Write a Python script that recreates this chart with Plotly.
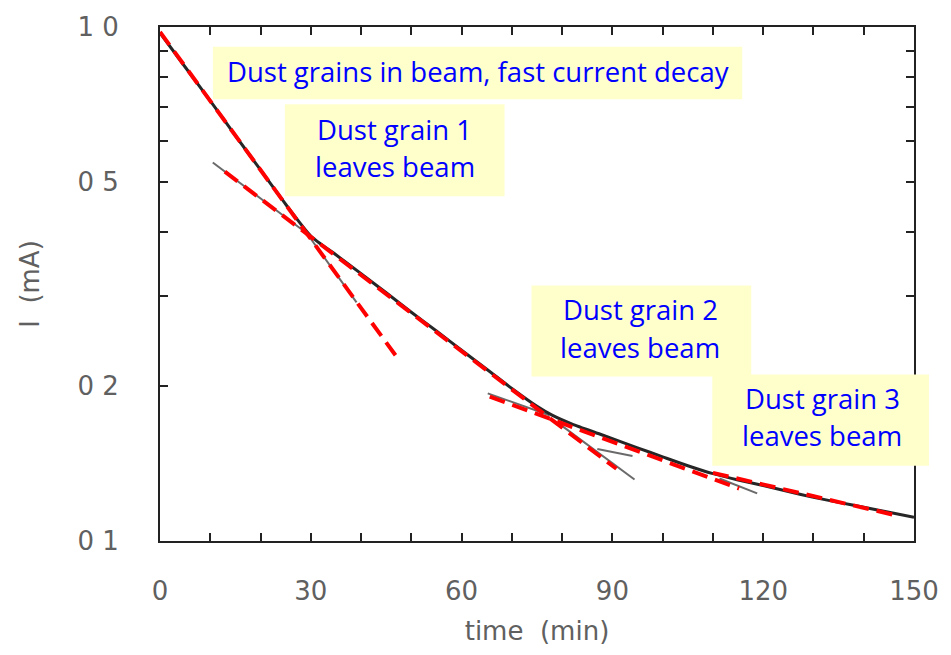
import plotly.graph_objects as go

# ---------------- data ----------------
# measured beam current I (mA) vs time (min)
time_min = [0, 5, 10, 15, 20, 25, 30, 35, 40, 45, 50, 55, 60, 65, 70, 75, 78,
            82, 88, 95, 100, 105, 110, 115, 120, 125, 130, 135, 140, 145, 150]
current_mA = [0.974, 0.836, 0.718, 0.615, 0.527, 0.452, 0.392, 0.3604, 0.3313,
              0.304, 0.2787, 0.2562, 0.235, 0.2159, 0.198, 0.1828, 0.1757,
              0.1688, 0.1608, 0.1518, 0.1458, 0.1401, 0.1352, 0.1314, 0.1282,
              0.1248, 0.1216, 0.1189, 0.1163, 0.1137, 0.1112]

# red dashed exponential-decay fits (start/end points)
fit1_t, fit1_I = [0, 47.1], [0.978, 0.228]
fit2_t, fit2_I = [12.9, 90.8], [0.523, 0.1382]
fit3_t, fit3_I = [65.6, 115.2], [0.191, 0.1265]
fit4_t, fit4_I = [110.0, 146.4], [0.1357, 0.1122]

# thin grey tangent segments of the original figure
tan1_t, tan1_I = [29.2, 39.1], [0.397, 0.2913]
tan2_t, tan2_I = [10.5, 29.2], [0.545, 0.397]
tan3_t, tan3_I = [79.5, 94.4], [0.1688, 0.1317]
tan4_t, tan4_I = [65.2, 77.5], [0.1937, 0.1757]
tan5_t, tan5_I = [87.0, 94.0], [0.151, 0.1464]
tan6_t, tan6_I = [111.3, 118.8], [0.1323, 0.1238]

# axis ticks
x_tickvals = list(range(0, 151, 10))
x_ticktext = [str(v) if v % 30 == 0 else "" for v in x_tickvals]
y_tickvals = [0.1, 0.2, 0.3, 0.4, 0.5, 0.6, 0.7, 0.8, 0.9, 1.0]
y_ticktext = ["0 1", "0 2", "", "", "0 5", "", "", "", "", "1 0"]

# annotation texts
notes = [
    "Dust grains in beam, fast current decay",
    "Dust grain 1", "leaves beam",
    "Dust grain 2", "leaves beam",
    "Dust grain 3", "leaves beam",
]

# ---------------- figure ----------------
W, H = 951, 655
L, R, T, B = 160, 36, 22, 114
PW, PH = W - L - R, H - T - B


def px(x):
    return (x - L) / PW


def py(y):
    return (H - B - y) / PH


fig = go.Figure()

grey_segments = [(tan1_t, tan1_I), (tan2_t, tan2_I), (tan3_t, tan3_I),
                 (tan4_t, tan4_I), (tan5_t, tan5_I), (tan6_t, tan6_I)]
for tt, ii in grey_segments:
    fig.add_trace(go.Scatter(x=tt, y=ii, mode="lines",
                             line=dict(color="#6a6a6a", width=2),
                             showlegend=False, hoverinfo="skip"))

fig.add_trace(go.Scatter(x=time_min, y=current_mA, mode="lines",
                         line=dict(color="#262626", width=3, shape="spline", smoothing=0.6),
                         showlegend=False))

for tt, ii in [(fit1_t, fit1_I), (fit2_t, fit2_I), (fit3_t, fit3_I), (fit4_t, fit4_I)]:
    fig.add_trace(go.Scatter(x=tt, y=ii, mode="lines",
                             line=dict(color="#ff0000", width=4, dash="16px,8px"),
                             showlegend=False))

# yellow boxes (pixel rectangles -> paper coords)
boxes = [(213, 42, 743, 95), (285, 100, 505, 193), (532, 283, 752, 375), (713, 373, 930, 465)]
for x0, y0, x1, y1 in boxes:
    fig.add_shape(type="rect", xref="paper", yref="paper",
                  x0=px(x0), x1=px(x1), y0=py(y1), y1=py(y0),
                  fillcolor="#ffffcc", line=dict(width=0), layer="above")

text_pos = [(478, 67), (395, 126), (395, 163), (641, 307), (641, 346), (823, 397), (823, 434)]
for txt, (x, y) in zip(notes, text_pos):
    fig.add_annotation(x=px(x), y=py(y), xref="paper", yref="paper", text=txt,
                       showarrow=False, xanchor="center", yanchor="middle",
                       font=dict(family="Open Sans", size=27.5, color="#0000ff"))

axis_font = dict(family="DejaVu Sans", size=26, color="#606060")
fig.update_xaxes(range=[0, 150], tickvals=x_tickvals, ticktext=x_ticktext,
                 ticks="inside", ticklen=8, tickwidth=1.5, tickcolor="#222",
                 showline=True, linecolor="#222", linewidth=2, mirror="ticks",
                 showgrid=False, zeroline=False, tickfont=axis_font,
                 ticklabelstandoff=26,
                 title=dict(text="time  (min)", font=axis_font, standoff=17))
fig.update_yaxes(type="log", range=[-1, 0], tickvals=y_tickvals, ticktext=y_ticktext,
                 ticks="inside", ticklen=8, tickwidth=1.5, tickcolor="#222",
                 showline=True, linecolor="#222", linewidth=2, mirror="ticks",
                 showgrid=False, zeroline=False, tickfont=axis_font,
                 ticklabelstandoff=34,
                 title=dict(text="I  (mA)", font=axis_font, standoff=30))

fig.update_layout(width=W, height=H, margin=dict(l=L, r=R, t=T, b=B),
                  paper_bgcolor="white", plot_bgcolor="white")

fig.write_html("out.html")
